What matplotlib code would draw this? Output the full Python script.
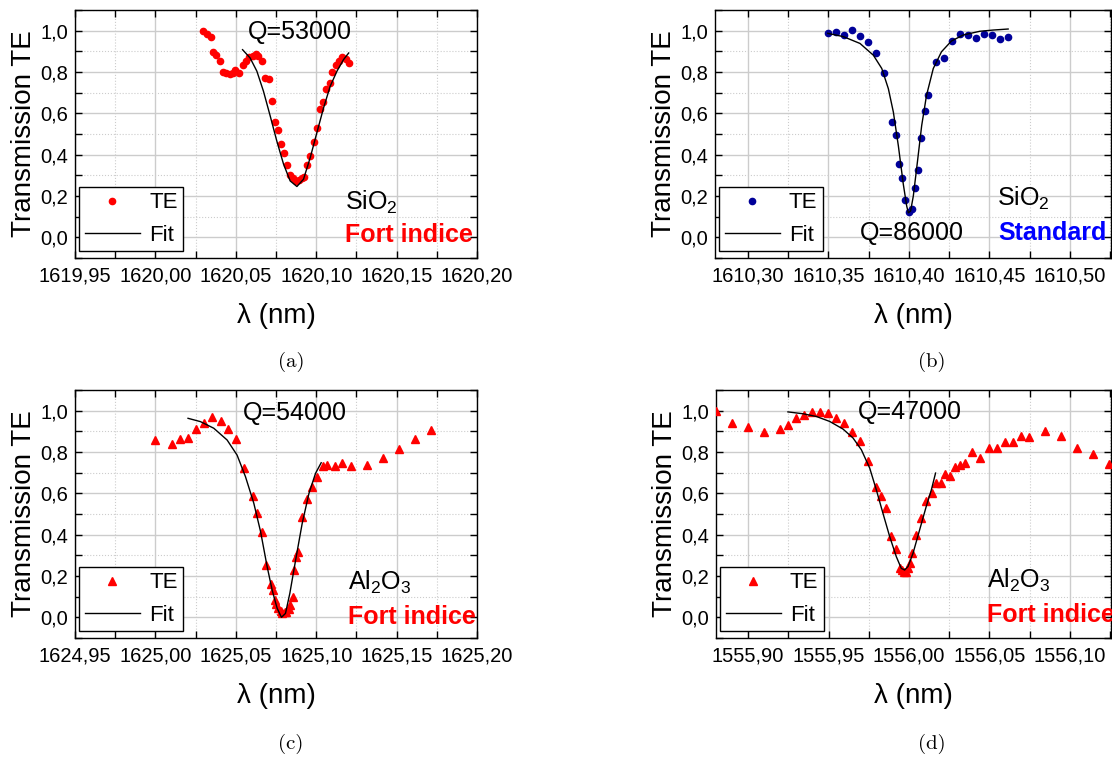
import matplotlib
matplotlib.use('Agg')
import matplotlib.pyplot as plt
from matplotlib.ticker import MultipleLocator, FuncFormatter

plt.rcParams['font.family'] = ['Liberation Sans', 'DejaVu Sans']
plt.rcParams['mathtext.fontset'] = 'custom'
plt.rcParams['mathtext.rm'] = 'Liberation Sans'
plt.rcParams['mathtext.it'] = 'Liberation Sans:italic'
plt.rcParams['mathtext.bf'] = 'Liberation Sans:bold'

# (a) SiO2 fort indice
a_wl = [1620.0293, 1620.0320, 1620.0345, 1620.0361, 1620.0378, 1620.0403, 1620.0419, 1620.0440,
        1620.0461, 1620.0481, 1620.0498, 1620.0519, 1620.0542, 1620.0562, 1620.0583, 1620.0604,
        1620.0625, 1620.0641, 1620.0662, 1620.0683, 1620.0706, 1620.0724, 1620.0741, 1620.0762,
        1620.0782, 1620.0801, 1620.0820, 1620.0838, 1620.0855, 1620.0872, 1620.0890, 1620.0909,
        1620.0926, 1620.0940, 1620.0959, 1620.0984, 1620.1004, 1620.1021, 1620.1042, 1620.1063,
        1620.1083, 1620.1100, 1620.1121, 1620.1141, 1620.1160, 1620.1183, 1620.1204]
a_te = [1.000, 0.986, 0.970, 0.897, 0.884, 0.852, 0.799, 0.793, 0.791, 0.796, 0.812, 0.794,
        0.836, 0.852, 0.871, 0.876, 0.888, 0.879, 0.855, 0.772, 0.767, 0.659, 0.560, 0.519,
        0.450, 0.407, 0.349, 0.302, 0.286, 0.273, 0.278, 0.289, 0.293, 0.349, 0.394, 0.463,
        0.531, 0.619, 0.654, 0.720, 0.749, 0.802, 0.833, 0.855, 0.871, 0.863, 0.842]
a_fit_wl = [1620.0542, 1620.0589, 1620.0631, 1620.0672, 1620.0714, 1620.0755, 1620.0797, 1620.0838,
            1620.0880, 1620.0921, 1620.0963, 1620.1004, 1620.1046, 1620.1087, 1620.1129, 1620.1170,
            1620.1202]
a_fit = [0.908, 0.868, 0.804, 0.707, 0.587, 0.466, 0.354, 0.273, 0.246, 0.281, 0.386, 0.506,
         0.627, 0.731, 0.804, 0.860, 0.892]

# (b) SiO2 standard
b_wl = [1610.3496, 1610.3548, 1610.3597, 1610.3647, 1610.3696, 1610.3748, 1610.3797, 1610.3847,
        1610.3897, 1610.3917, 1610.3936, 1610.3959, 1610.3977, 1610.3998, 1610.4019, 1610.4037,
        1610.4058, 1610.4076, 1610.4097, 1610.4116, 1610.4167, 1610.4215, 1610.4267, 1610.4316,
        1610.4366, 1610.4415, 1610.4465, 1610.4514, 1610.4564, 1610.4616]
b_te = [0.990, 0.995, 0.981, 1.002, 0.972, 0.945, 0.893, 0.797, 0.560, 0.495, 0.357, 0.287,
        0.179, 0.122, 0.138, 0.237, 0.325, 0.482, 0.612, 0.688, 0.849, 0.870, 0.951, 0.984,
        0.981, 0.964, 0.984, 0.977, 0.959, 0.969]
b_fit_wl = [1610.3496, 1610.3593, 1610.3696, 1610.3779, 1610.3831, 1610.3872, 1610.3903, 1610.3934,
            1610.3965, 1610.3986, 1610.3996, 1610.4010, 1610.4027, 1610.4052, 1610.4079, 1610.4109,
            1610.4151, 1610.4202, 1610.4264, 1610.4337, 1610.4440, 1610.4523, 1610.4616]
b_fit = [0.987, 0.971, 0.938, 0.881, 0.817, 0.719, 0.606, 0.443, 0.256, 0.151, 0.119, 0.127,
         0.200, 0.362, 0.541, 0.687, 0.817, 0.898, 0.950, 0.979, 0.997, 1.003, 1.008]

# (c) Al2O3 fort indice
c_wl = [1625.0000, 1625.0104, 1625.0156, 1625.0203, 1625.0255, 1625.0301, 1625.0353, 1625.0405,
        1625.0454, 1625.0504, 1625.0554, 1625.0604, 1625.0633, 1625.0664, 1625.0689, 1625.0722,
        1625.0732, 1625.0741, 1625.0753, 1625.0765, 1625.0778, 1625.0789, 1625.0803, 1625.0815,
        1625.0828, 1625.0840, 1625.0853, 1625.0861, 1625.0872, 1625.0888, 1625.0913, 1625.0944,
        1625.0973, 1625.1006, 1625.1042, 1625.1069, 1625.1116, 1625.1162, 1625.1214, 1625.1313,
        1625.1417, 1625.1515, 1625.1614, 1625.1716]
c_te = [0.858, 0.839, 0.861, 0.869, 0.910, 0.939, 0.968, 0.952, 0.911, 0.863, 0.724, 0.589,
        0.503, 0.411, 0.253, 0.161, 0.132, 0.084, 0.065, 0.044, 0.032, 0.023, 0.024, 0.027,
        0.039, 0.060, 0.100, 0.229, 0.294, 0.315, 0.487, 0.571, 0.632, 0.681, 0.732, 0.737,
        0.732, 0.745, 0.732, 0.737, 0.773, 0.813, 0.863, 0.905]
c_fit_wl = [1625.0203, 1625.0280, 1625.0363, 1625.0446, 1625.0508, 1625.0560, 1625.0612, 1625.0654,
            1625.0695, 1625.0726, 1625.0757, 1625.0784, 1625.0809, 1625.0836, 1625.0872, 1625.0913,
            1625.0955, 1625.0996, 1625.1031]
c_fit = [0.963, 0.947, 0.915, 0.858, 0.785, 0.681, 0.552, 0.415, 0.245, 0.132, 0.044, 0.000,
         0.019, 0.116, 0.277, 0.455, 0.600, 0.697, 0.748]

# (d) Al2O3 fort indice
d_wl = [1555.8803, 1555.8903, 1555.9000, 1555.9099, 1555.9199, 1555.9248, 1555.9300, 1555.9350,
        1555.9400, 1555.9449, 1555.9499, 1555.9549, 1555.9598, 1555.9648, 1555.9698, 1555.9747,
        1555.9797, 1555.9826, 1555.9859, 1555.9886, 1555.9917, 1555.9942, 1555.9954, 1555.9967,
        1555.9979, 1555.9991, 1556.0004, 1556.0021, 1556.0045, 1556.0076, 1556.0103, 1556.0141,
        1556.0165, 1556.0196, 1556.0225, 1556.0256, 1556.0288, 1556.0319, 1556.0350, 1556.0393,
        1556.0443, 1556.0495, 1556.0546, 1556.0596, 1556.0646, 1556.0697, 1556.0747, 1556.0846,
        1556.0946, 1556.1045, 1556.1145, 1556.1242]
d_te = [1.000, 0.940, 0.919, 0.895, 0.911, 0.929, 0.963, 0.979, 0.994, 0.994, 0.989, 0.963,
        0.940, 0.898, 0.851, 0.758, 0.633, 0.588, 0.528, 0.394, 0.330, 0.237, 0.229, 0.221,
        0.221, 0.241, 0.262, 0.310, 0.399, 0.480, 0.565, 0.601, 0.649, 0.649, 0.693, 0.682,
        0.725, 0.738, 0.746, 0.798, 0.771, 0.819, 0.819, 0.847, 0.847, 0.879, 0.871, 0.903,
        0.876, 0.819, 0.792, 0.743]
d_fit_wl = [1555.9248, 1555.9342, 1555.9424, 1555.9507, 1555.9590, 1555.9652, 1555.9704, 1555.9756,
            1555.9797, 1555.9838, 1555.9880, 1555.9921, 1555.9952, 1555.9973, 1555.9994, 1556.0025,
            1556.0066, 1556.0107, 1556.0139, 1556.0165]
d_fit = [0.994, 0.985, 0.972, 0.948, 0.911, 0.868, 0.811, 0.722, 0.617, 0.504, 0.391, 0.294,
         0.237, 0.229, 0.246, 0.310, 0.423, 0.536, 0.617, 0.698]


def comma(fmt):
    return FuncFormatter(lambda v, pos: (fmt % v).replace('.', ','))


def draw_panel(ax, wl, te, fit_wl, fit, xlim, marker, color, q_text, q_pos,
               material, mat_pos, kind, kind_color, kind_pos, ms):
    ax.set_axisbelow(True)
    ax.plot(wl, te, linestyle='none', marker=marker, color=color, ms=ms, label='TE', zorder=3)
    ax.plot(fit_wl, fit, color='k', lw=1.0, label='Fit', zorder=4)
    ax.set_xlim(xlim)
    ax.set_ylim(-0.1, 1.1)

    ax.xaxis.set_major_locator(MultipleLocator(0.05))
    ax.xaxis.set_minor_locator(MultipleLocator(0.025))
    ax.yaxis.set_major_locator(MultipleLocator(0.2))
    ax.yaxis.set_minor_locator(MultipleLocator(0.1))
    ax.xaxis.set_major_formatter(comma('%.2f'))
    ax.yaxis.set_major_formatter(comma('%.1f'))
    ax.tick_params(which='both', direction='in', top=True, right=True, length=5, width=1)
    ax.tick_params(axis='x', labelsize=14.5, pad=6)
    ax.tick_params(axis='y', labelsize=14.5, pad=5)
    ax.grid(which='major', color='#cccccc', lw=1.0, ls='-')
    ax.grid(which='minor', color='#cccccc', lw=0.8, ls=':')
    for s in ax.spines.values():
        s.set_linewidth(1.0)

    ax.set_xlabel('λ (nm)', fontsize=20)
    ax.set_ylabel('Transmission TE', fontsize=20)
    ax.xaxis.set_label_coords(0.5, -0.18)
    ax.yaxis.set_label_coords(-0.095, 0.5)

    ax.text(q_pos[0], q_pos[1], q_text, transform=ax.transAxes, fontsize=18,
            ha='center', va='center')
    ax.text(mat_pos[0], mat_pos[1], material, transform=ax.transAxes, fontsize=18,
            ha='left', va='center')
    ax.text(kind_pos[0], kind_pos[1], kind, transform=ax.transAxes, fontsize=18,
            ha='left', va='center', color=kind_color, fontweight='bold')

    leg = ax.legend(loc='lower left', bbox_to_anchor=(0.01, 0.028), borderaxespad=0,
                    fontsize=16, fancybox=False, framealpha=1, edgecolor='k',
                    borderpad=0.25, handlelength=2.5, handletextpad=0.4,
                    labelspacing=0.5, numpoints=1)
    leg.get_frame().set_linewidth(1.0)


fig = plt.figure(figsize=(11.12, 7.58), dpi=100)
W, H = 1112.0, 758.0

ax_a = fig.add_axes([75 / W, 1 - 258 / H, 402 / W, 248 / H])
ax_b = fig.add_axes([715 / W, 1 - 258 / H, 396 / W, 248 / H])
ax_c = fig.add_axes([75 / W, 1 - 638 / H, 402 / W, 248 / H])
ax_d = fig.add_axes([716 / W, 1 - 638 / H, 395 / W, 248 / H])

draw_panel(ax_a, a_wl, a_te, a_fit_wl, a_fit, (1619.95, 1620.20), 'o', '#ff0000',
           'Q=53000', (0.56, 0.91), r'SiO$_\mathregular{2}$', (0.672, 0.226),
           'Fort indice', '#ff0000', (0.672, 0.093), 4.5)
draw_panel(ax_b, b_wl, b_te, b_fit_wl, b_fit, (1610.2795, 1610.5255), 'o', '#000099',
           'Q=86000', (0.497, 0.10), r'SiO$_\mathregular{2}$', (0.712, 0.24),
           'Standard', '#0000ff', (0.715, 0.10), 4.5)
draw_panel(ax_c, c_wl, c_te, c_fit_wl, c_fit, (1624.95, 1625.20), '^', '#ff0000',
           'Q=54000', (0.547, 0.907), r'Al$_\mathregular{2}$O$_\mathregular{3}$', (0.679, 0.226),
           'Fort indice', '#ff0000', (0.679, 0.085), 5.5)
draw_panel(ax_d, d_wl, d_te, d_fit_wl, d_fit, (1555.8801, 1556.1255), '^', '#ff0000',
           'Q=47000', (0.49, 0.911), r'Al$_\mathregular{2}$O$_\mathregular{3}$', (0.686, 0.234),
           'Fort indice', '#ff0000', (0.686, 0.093), 5.5)

# sub-captions
for label, x, y in [('(a)', 291, 362), ('(b)', 932, 362), ('(c)', 291, 744), ('(d)', 932, 744)]:
    fig.text(x / W, 1 - y / H, label, family='cmr10', fontsize=15, ha='center', va='center')

fig.savefig('out.png', dpi=100)
